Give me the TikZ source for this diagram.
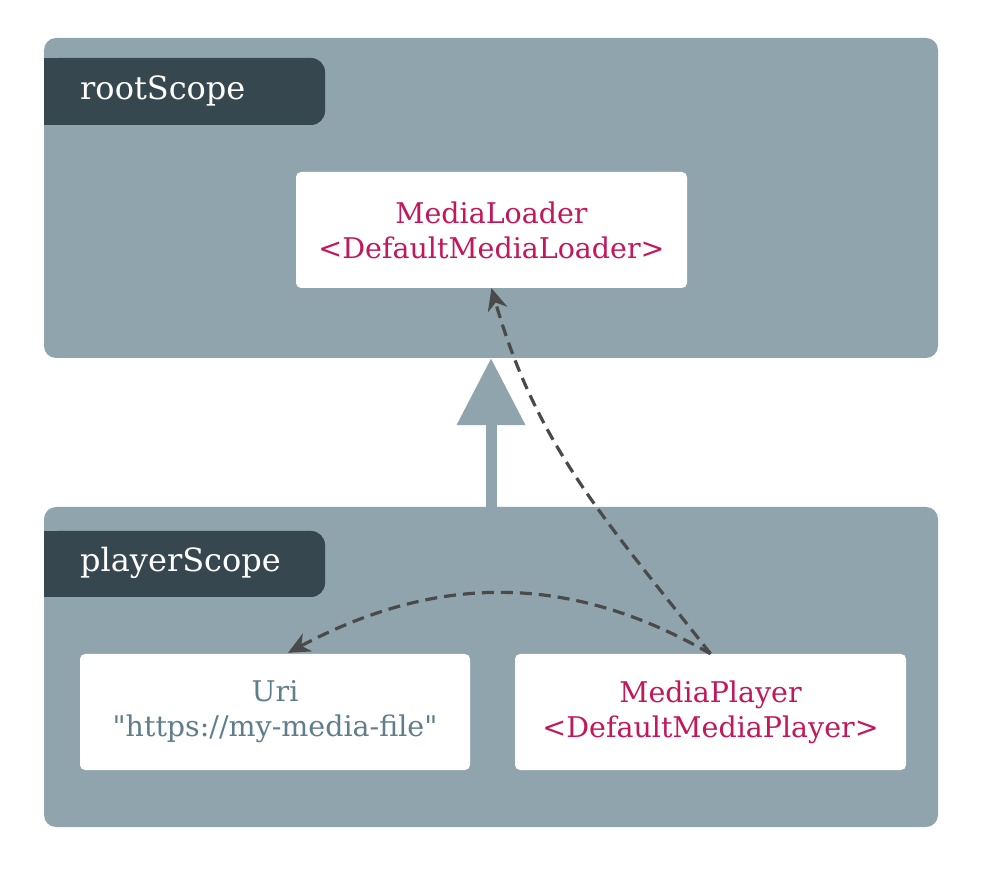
\documentclass[tikz,border=0pt]{standalone}
\usepackage{fontspec}
\setmainfont{DejaVu Serif}[Ligatures=TeXOff]
\usetikzlibrary{arrows.meta,calc}
\definecolor{scopebg}{HTML}{90A4AE}
\definecolor{tabbg}{HTML}{37474F}
\definecolor{pinktxt}{HTML}{C2185B}
\definecolor{greytxt}{HTML}{607D8B}
\definecolor{dashcol}{HTML}{4A4A4A}
\tikzset{
  scopebox/.style={fill=scopebg, rounded corners=12pt, minimum width=894pt, minimum height=320pt, inner sep=0pt},
  tabbox/.style={fill=tabbg, rounded corners=14pt},
  tabtext/.style={text=white, font=\fontsize{32}{36}\selectfont, inner sep=0pt},
  beanbox/.style={fill=white, rounded corners=5pt, minimum height=116pt, inner sep=0pt, align=center, font=\fontsize{28.5}{35}\selectfont},
  depline/.style={draw=dashcol, line width=3.2pt, dash pattern=on 12pt off 7pt, -{Stealth[length=22pt, width=20pt, inset=7pt]}},
  parentarrow/.style={draw=scopebg, line width=11pt, -{Triangle[width=66pt, length=67pt]}}
}
\begin{document}
\begin{tikzpicture}[x=1pt, y=1pt]
\useasboundingbox (0,0) rectangle (984,878);
% containers
\node[scopebox] (rs) at (491,680) {};
\node[scopebox] (ps) at (491,211) {};
% tabs
\fill[tabbox] (44,753) rectangle (325,820);
\fill[tabbg] (44,753) rectangle (70,820);
\node[tabtext, anchor=base west] (rst) at (80,778) {rootScope};
\fill[tabbox] (44,281) rectangle (325,347);
\fill[tabbg] (44,281) rectangle (70,347);
\node[tabtext, anchor=base west] (pst) at (80,306) {playerScope};
% beans
\node[beanbox, minimum width=391pt, text=pinktxt] (ml) at (491.5,648) {MediaLoader\\<DefaultMediaLoader>};
\node[beanbox, minimum width=390pt, text=greytxt] (uri) at (275,166) {Uri\\"https://my-media-file"};
\node[beanbox, minimum width=391pt, text=pinktxt] (mp) at (710.5,166) {MediaPlayer\\<DefaultMediaPlayer>};
% parent arrow
\draw[parentarrow] (ps.north) -- (rs.south);
% dependency arrows
\coordinate (ut) at ($(uri.north)+(13,1)$);
\draw[depline] (mp.north) to[out=150, in=28] (ut);
\draw[depline] (mp.north) to[out=128, in=-74] (ml.south);
\end{tikzpicture}
\end{document}
